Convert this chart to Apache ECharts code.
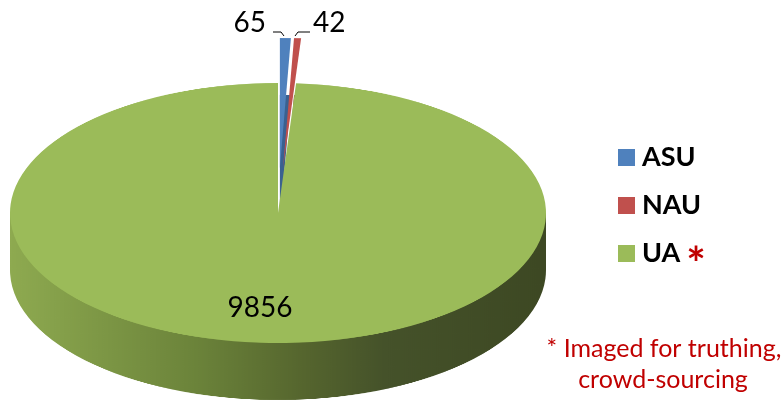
<!DOCTYPE html>
<html>
<head>
<meta charset="utf-8">
<script src="https://cdn.jsdelivr.net/npm/echarts@6/dist/echarts.min.js"></script>
<style>
  html, body { margin: 0; padding: 0; background: #ffffff; }
  #wrap { position: relative; width: 784px; height: 405px; overflow: hidden; }
  #pie { position: absolute; left: 0; top: 0; width: 784px; height: 835px; transform-origin: 0 0; }
  #overlay { position: absolute; left: 0; top: 0; width: 784px; height: 405px; }
</style>
</head>
<body>
<div id="wrap">
  <div id="pie"></div>
  <div id="overlay"></div>
</div>
<script>
// ---- data ----
const categories = ['ASU', 'NAU', 'UA'];
const values = [65, 42, 9856];
const explodedSlices = [true, true, false];
const footnoteMark = '*';
const footnoteLines = ['* Imaged for truthing,', 'crowd-sourcing'];

// ---- styles ----
const topColors = ['#4f81bd', '#c0504d', '#9bbb59'];
const FONT = 'Lato, "Liberation Sans", sans-serif';

// ---- geometry of the tilted pie ----
const SQUASH = 130 / 268;          // vertical squash of the pie plane
const CX = 278, R = 268;
const CY_TOP = 213 / SQUASH;
const DEPTH = 57 / SQUASH;
const EXPLODE = 45 / SQUASH;

document.getElementById('pie').style.transform = 'scaleY(' + SQUASH + ')';

const sideGradient = {
  type: 'linear', x: CX - R, y: 0, x2: CX + R, y2: 0, global: true,
  colorStops: [
    { offset: 0, color: '#8eaa50' },
    { offset: 0.35, color: '#6b833a' },
    { offset: 0.55, color: '#55652e' },
    { offset: 0.7, color: '#45522a' },
    { offset: 1, color: '#3d4823' }
  ]
};
const sideColors = ['#3a6190', '#8e3a38', sideGradient];

function pieData(colors) {
  return categories.map((c, i) => ({
    name: c,
    value: values[i],
    selected: explodedSlices[i],
    itemStyle: { color: colors[i] }
  }));
}

const pieCommon = {
  type: 'pie',
  radius: R,
  startAngle: 90,
  clockwise: true,
  selectedMode: 'multiple',
  selectedOffset: EXPLODE,
  silent: true,
  animation: false,
  label: { show: false },
  labelLine: { show: false },
  emphasis: { disabled: true },
  select: { disabled: false }
};

const pieChart = echarts.init(document.getElementById('pie'), null, { renderer: 'canvas' });
pieChart.setOption({
  animation: false,
  graphic: [{
    type: 'rect',
    z: 0,
    silent: true,
    shape: { x: CX - R, y: CY_TOP, width: 2 * R, height: DEPTH },
    style: { fill: sideGradient }
  }],
  series: [
    Object.assign({}, pieCommon, {
      name: 'side', z: 1,
      center: [CX, CY_TOP + DEPTH],
      data: pieData(sideColors)
    }),
    Object.assign({}, pieCommon, {
      name: 'top', z: 5,
      center: [CX, CY_TOP],
      data: pieData(topColors)
    })
  ]
});

// ---- overlay: legend, value labels, footnote ----
const overlay = echarts.init(document.getElementById('overlay'), null, { renderer: 'canvas' });
const labelStyle = { font: '28px ' + FONT, fill: '#000000', verticalAlign: 'middle' };
overlay.setOption({
  animation: false,
  legend: {
    orient: 'vertical',
    left: 613,
    top: 139,
    icon: 'rect',
    itemWidth: 17,
    itemHeight: 17,
    itemGap: 21,
    selectedMode: false,
    data: categories,
    textStyle: {
      fontFamily: FONT,
      fontWeight: 'bold',
      fontSize: 27,
      color: '#000000',
      lineHeight: 17,
      padding: [0, 0, 0, 2]
    }
  },
  graphic: [
    { type: 'text', style: Object.assign({}, labelStyle, { text: String(values[0]), x: 266, y: 23, align: 'right' }) },
    { type: 'text', style: Object.assign({}, labelStyle, { text: String(values[1]), x: 313, y: 23, align: 'left' }) },
    { type: 'text', style: Object.assign({}, labelStyle, { text: String(values[2]), x: 260, y: 308, align: 'center' }) },
    { type: 'polyline', shape: { points: [[273, 32], [281, 32], [284, 36]] }, style: { stroke: '#000', lineWidth: 1, fill: null } },
    { type: 'polyline', shape: { points: [[295, 36], [298, 32], [310, 32]] }, style: { stroke: '#000', lineWidth: 1, fill: null } },
    { type: 'text', style: { text: footnoteMark, x: 696, y: 265, align: 'center', verticalAlign: 'middle', font: 'bold 46px ' + FONT, fill: '#c00000' } },
    { type: 'text', style: { text: footnoteLines[0], x: 664, y: 349, align: 'center', verticalAlign: 'middle', font: '25px ' + FONT, fill: '#c00000' } },
    { type: 'text', style: { text: footnoteLines[1], x: 663, y: 380, align: 'center', verticalAlign: 'middle', font: '25px ' + FONT, fill: '#c00000' } }
  ],
  series: [{
    type: 'pie',
    center: [-1000, -1000],
    radius: 5,
    silent: true,
    animation: false,
    label: { show: false },
    labelLine: { show: false },
    data: categories.map((c, i) => ({ name: c, value: values[i], itemStyle: { color: topColors[i] } }))
  }]
});
</script>
</body>
</html>
